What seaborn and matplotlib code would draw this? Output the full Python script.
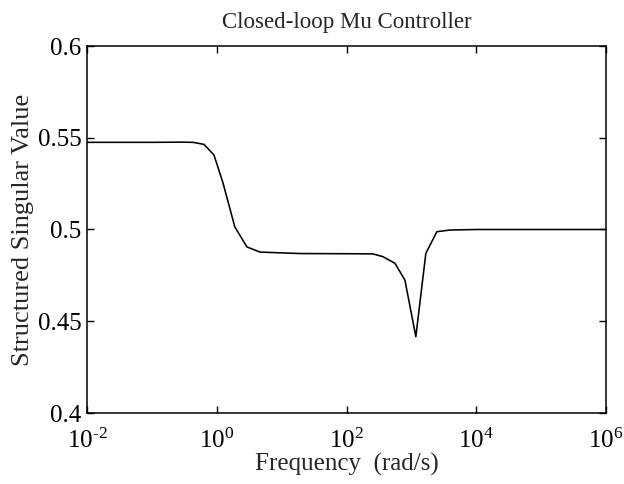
import math
import matplotlib
matplotlib.use("Agg")
import matplotlib.pyplot as plt
import seaborn as sns
import pandas as pd
from matplotlib.ticker import NullLocator, FixedLocator, FuncFormatter

# Structured singular value (mu) of the closed loop across frequency
freq = [0.01, 0.1, 0.3, 0.43, 0.635, 0.906, 1.25, 1.9, 2.92, 4.63, 19, 100,
        255, 364, 557, 794, 1172, 1671, 2472, 3917, 1e4, 1e6]
mu = [0.5475, 0.5475, 0.5476, 0.5475, 0.5464, 0.5406, 0.5253, 0.5014, 0.4905,
      0.4877, 0.4869, 0.4868, 0.4867, 0.4852, 0.4816, 0.4725, 0.4416, 0.4870,
      0.4988, 0.4997, 0.5, 0.5]

y_ticks = [0.4, 0.45, 0.5, 0.55, 0.6]
y_tick_labels = ["0.4", "0.45", "0.5", "0.55", "0.6"]
x_exponents = [-2, 0, 2, 4, 6]

df = pd.DataFrame({"Frequency": freq, "mu": mu})

sns.set_style("ticks")
plt.rcParams["font.family"] = ["Liberation Serif", "DejaVu Serif"]
plt.rcParams["mathtext.fontset"] = "custom"
plt.rcParams["mathtext.rm"] = "Liberation Serif"
plt.rcParams["mathtext.it"] = "Liberation Serif"
plt.rcParams["mathtext.default"] = "rm"

fig = plt.figure(figsize=(6.24, 4.84), dpi=100)
ax = fig.add_axes([87 / 624, 1 - 413 / 484, 519 / 624, 367 / 484])

sns.lineplot(data=df, x="Frequency", y="mu", ax=ax, color="black",
             linewidth=1.15, estimator=None, sort=False)

ax.set_xscale("log")
ax.set_xlim(1e-2, 1e6)
ax.set_ylim(0.4, 0.6)

ax.xaxis.set_major_locator(FixedLocator([10.0 ** e for e in x_exponents]))
ax.xaxis.set_minor_locator(NullLocator())
ax.xaxis.set_major_formatter(
    FuncFormatter(lambda v, p: r"$10^{\text{%d}}$" % round(math.log10(v))))
ax.set_yticks(y_ticks)
ax.set_yticklabels(y_tick_labels)

for side in ["top", "right", "left", "bottom"]:
    ax.spines[side].set_visible(True)
    ax.spines[side].set_linewidth(1.1)
    ax.spines[side].set_color("black")

ax.tick_params(axis="both", which="major", direction="in", length=5, width=1.0,
               top=True, right=True, colors="black")
ax.tick_params(axis="y", labelsize=18, pad=4)
ax.tick_params(axis="x", labelsize=18, pad=11)

ax.set_title("Closed-loop Mu Controller", fontsize=16.5, pad=13)
ax.set_xlabel("Frequency  (rad/s)", fontsize=18, labelpad=0)
ax.set_ylabel("Structured Singular Value", fontsize=19, labelpad=3)

fig.savefig("out.png", dpi=100, facecolor="white")
